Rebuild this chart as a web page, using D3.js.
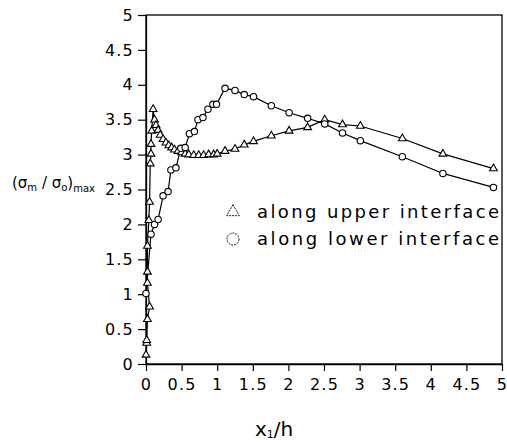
<!DOCTYPE html>
<html><head><meta charset="utf-8">
<script src="https://cdn.jsdelivr.net/npm/d3@7"></script>
<style>body{margin:0;background:#fff}svg{display:block}</style>
</head><body>
<svg id="c" width="507" height="444"></svg>
<script>
const xTicks = [0,0.5,1,1.5,2,2.5,3,3.5,4,4.5,5];
const yTicks = [0,0.5,1,1.5,2,2.5,3,3.5,4,4.5,5];
const upperX = [0.0,0.01,0.01,0.02,0.05,0.02,0.02,0.02,0.04,0.05,0.06,0.07,0.07,0.08,0.10,0.12,0.14,0.17,0.20,0.24,0.28,0.32,0.36,0.40,0.45,0.50,0.55,0.60,0.67,0.74,0.81,0.88,0.95,1.00,1.11,1.25,1.38,1.51,1.76,2.01,2.27,2.51,2.76,3.01,3.60,4.17,4.88];
const upperY = [0.13,0.30,0.34,0.64,0.82,1.16,1.32,1.69,2.06,2.32,2.87,3.01,3.15,3.34,3.65,3.50,3.42,3.35,3.28,3.22,3.17,3.13,3.10,3.07,3.05,3.03,3.01,3.00,2.99,2.99,2.99,3.00,3.00,3.01,3.05,3.08,3.14,3.19,3.27,3.34,3.39,3.50,3.43,3.41,3.23,3.01,2.80];
const lowerX = [0.0,0.07,0.12,0.17,0.24,0.31,0.35,0.42,0.49,0.55,0.61,0.68,0.73,0.80,0.87,0.94,0.99,1.11,1.25,1.38,1.51,1.76,2.01,2.27,2.51,2.76,3.01,3.60,4.17,4.88];
const lowerY = [1.01,1.86,2.00,2.07,2.41,2.47,2.78,2.81,3.09,3.10,3.30,3.33,3.50,3.53,3.65,3.72,3.72,3.95,3.92,3.86,3.83,3.70,3.60,3.52,3.44,3.31,3.20,2.97,2.73,2.53];
const legendLabels = ["along upper interface","along lower interface"];

const svg = d3.select("#c");
const x = d3.scaleLinear().domain([0,5]).range([146,502]);
const y = d3.scaleLinear().domain([0,5]).range([364,15]);
const font = "'DejaVu Sans', sans-serif";

// frame
svg.append("rect").attr("x",x(0)).attr("y",y(5)).attr("width",x(5)-x(0)).attr("height",y(0)-y(5))
  .attr("fill","none").attr("stroke","#000").attr("stroke-width",1.3);

const xAxis = svg.append("g").attr("transform",`translate(0,${y(0)})`)
  .call(d3.axisBottom(x).tickValues(xTicks).tickFormat(d3.format("")).tickSize(7).tickSizeOuter(0));
const yAxis = svg.append("g").attr("transform",`translate(${x(0)},0)`)
  .call(d3.axisLeft(y).tickValues(yTicks).tickFormat(d3.format("")).tickSize(8).tickSizeOuter(0));
[xAxis,yAxis].forEach(a=>{
  a.select(".domain").attr("stroke","#000").attr("stroke-width",1.3);
  a.selectAll(".tick line").attr("stroke","#000").attr("stroke-width",1.2);
  a.selectAll("text").attr("fill","#000").style("font-family",font).style("font-size","16px").style("letter-spacing","1.2px");
});
xAxis.selectAll("text").attr("dy","1.0em");
yAxis.selectAll("text").attr("x",-12);

const line = d3.line().x(d=>x(d[0])).y(d=>y(d[1]));
const upper = upperX.map((v,i)=>[v,upperY[i]]);
const lower = lowerX.map((v,i)=>[v,lowerY[i]]);

svg.append("path").datum(upper).attr("d",line).attr("fill","none").attr("stroke","#000").attr("stroke-width",1.2);
svg.append("path").datum(lower).attr("d",line).attr("fill","none").attr("stroke","#000").attr("stroke-width",1.2);

const tri = d3.symbol().type(d3.symbolTriangle).size(26);
svg.append("g").selectAll("path").data(upper).join("path")
  .attr("d",tri).attr("transform",d=>`translate(${x(d[0])},${y(d[1])})`)
  .attr("fill","#fff").attr("stroke","#000").attr("stroke-width",1.1);
svg.append("g").selectAll("circle").data(lower).join("circle")
  .attr("cx",d=>x(d[0])).attr("cy",d=>y(d[1])).attr("r",3.2)
  .attr("fill","#fff").attr("stroke","#000").attr("stroke-width",1.1);

// legend
const lg = svg.append("g");
lg.append("path").attr("d",d3.symbol().type(d3.symbolTriangle).size(70)).attr("transform","translate(233,212)")
  .attr("fill","none").attr("stroke","#000").attr("stroke-width",0.9).attr("stroke-dasharray","2,1");
lg.append("circle").attr("cx",233).attr("cy",239).attr("r",6)
  .attr("fill","none").attr("stroke","#000").attr("stroke-width",0.9).attr("stroke-dasharray","2,1");
legendLabels.forEach((t,i)=>{
  lg.append("text").attr("x",257).attr("y",218+i*27).attr("textLength",242).attr("lengthAdjust","spacing")
    .style("font-family",font).style("font-size","18px").attr("fill","#000").text(t);
});

// y label
const yl = svg.append("text").attr("x",12).attr("y",188).style("font-family",font).style("font-size","15px").attr("fill","#000");
yl.append("tspan").text("(σ");
yl.append("tspan").attr("dy",3).style("font-size","10px").text("m");
yl.append("tspan").attr("dy",-3).text(" / σ");
yl.append("tspan").attr("dy",3).style("font-size","10px").text("o");
yl.append("tspan").attr("dy",-3).text(")");
yl.append("tspan").attr("dy",4).style("font-size","10px").text("max");

// x label
const xl = svg.append("text").attr("x",255).attr("y",436).style("font-family",font).style("font-size","20px").attr("fill","#000");
xl.append("tspan").text("x");
xl.append("tspan").attr("dy",2).style("font-size","11px").text("1");
xl.append("tspan").attr("dy",-2).text("/h");
</script>
</body></html>
